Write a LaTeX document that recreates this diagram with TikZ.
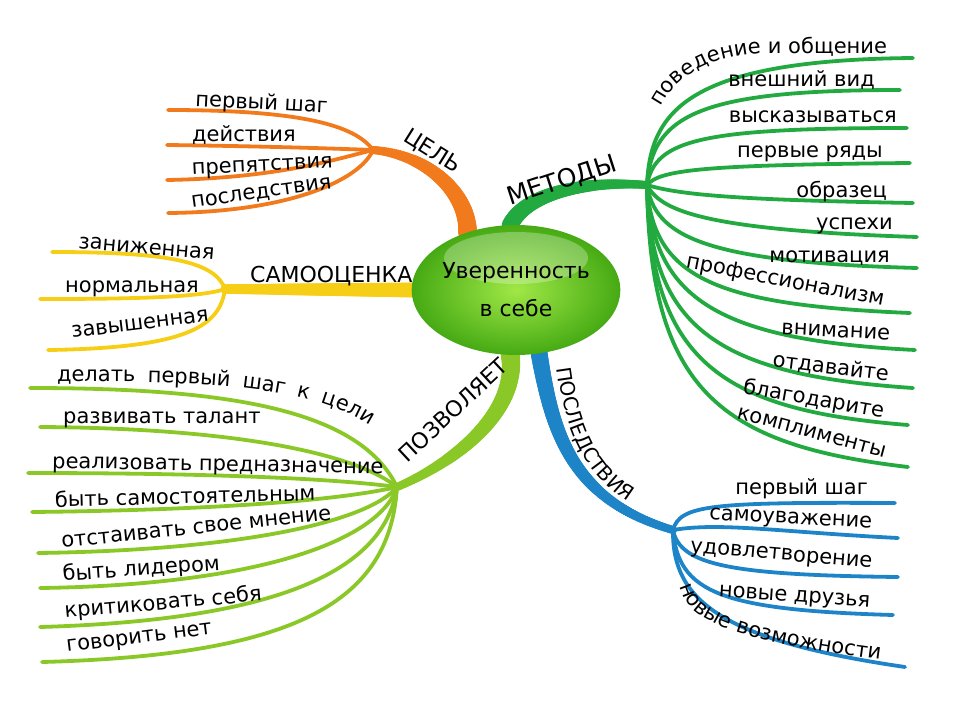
\documentclass[tikz,border=0pt]{standalone}
\usepackage{fontspec}
\setmainfont{DejaVu Sans}
\usetikzlibrary{shapes.geometric,backgrounds,decorations.text,decorations.markings}

\definecolor{goalc}{RGB}{241,122,28}
\definecolor{selfc}{RGB}{247,206,22}
\definecolor{allowc}{RGB}{138,200,40}
\definecolor{methc}{RGB}{34,170,64}
\definecolor{consc}{RGB}{30,132,200}
\definecolor{corein}{RGB}{160,232,70}
\definecolor{coreout}{RGB}{70,170,20}

\newcommand{\leaffont}{\fontsize{21}{25}\selectfont}
\newcommand{\topicfont}{\fontsize{22}{26}\selectfont}

\tikzset{
  leaf/.style={inner sep=0pt,font=\leaffont},
  topic/.style={inner sep=0pt,font=\topicfont},
  taper/.style 2 args={postaction={decorate,decoration={markings,
    mark=between positions 0 and 1 step 2pt with {%
      \pgfmathsetmacro{\tapr}{#1+(#2-#1)*\pgfkeysvalueof{/pgf/decoration/mark info/distance from start}/\pgfdecoratedpathlength}%
      \fill (0,0) circle (\tapr pt);}}}},
  branch/.style={line width=8pt,line cap=round},
  twig/.style={line width=3.8pt,line cap=round},
  core/.style={ellipse,minimum width=190pt,minimum height=130pt,inner sep=0pt,
    shade,shading=radial,inner color=corein,outer color=coreout,
    path picture={\fill[white,opacity=.28] ([yshift=32pt]path picture bounding box.center) ellipse (72pt and 26pt);},
    font=\fontsize{22}{38}\selectfont,align=center}
}

\begin{document}
\begin{tikzpicture}[x=1pt,y=-1pt]
\useasboundingbox (0,0) rectangle (960,720);

\coordinate (goal) at (373,150);
\coordinate (esteem) at (225,289);
\coordinate (method) at (647,185);
\coordinate (allow) at (397,487);
\coordinate (conseq) at (673,530);

\node[core] (core) at (516,290) {Уверенность\\в себе};

\begin{pgfonlayer}{background}
\draw[branch,taper={9.5}{4},goalc] (core.130) .. controls (468,195) and (430,155) .. (goal);
\draw[branch,taper={7.5}{5},selfc] (core.180) -- (esteem);
\draw[branch,taper={8.5}{4},methc] (core.95) .. controls (525,195) and (580,180) .. (method);
\draw[branch,taper={9.5}{4},allowc] (core.265) .. controls (518,410) and (460,460) .. (allow);
\draw[branch,taper={8.5}{4},consc] (core.290) .. controls (552,430) and (570,500) .. (conseq);
\end{pgfonlayer}

\coordinate (g1) at (168,110);
\coordinate (g2) at (167,145);
\coordinate (g3) at (167,180);
\coordinate (g4) at (168,213);
\draw[twig,goalc] (goal) .. controls (355,125) and (300,110) .. (g1);
\draw[twig,goalc] (goal) .. controls (320,148) and (250,146) .. (g2);
\draw[twig,goalc] (goal) .. controls (340,158) and (280,178) .. (g3);
\draw[twig,goalc] (goal) .. controls (360,180) and (290,212) .. (g4);
\node[leaf,anchor=base west,rotate=-3] (g1t) at (195,106) {первый шаг};
\node[leaf,anchor=base west] (g2t) at (192,141) {действия};
\node[leaf,anchor=base west,rotate=3] (g3t) at (192,175) {препятствия};
\node[leaf,anchor=base west,rotate=8] (g4t) at (192,208) {последствия};
\node[topic,rotate=-32] (goalt) at (432,152) {ЦЕЛЬ};

\coordinate (s1) at (52,252);
\coordinate (s2) at (40,299);
\coordinate (s3) at (48,350);
\draw[twig,selfc] (esteem) .. controls (215,262) and (170,252) .. (s1);
\draw[twig,selfc] (esteem) .. controls (200,298) and (120,299) .. (s2);
\draw[twig,selfc] (esteem) .. controls (220,325) and (190,348) .. (s3);
\node[leaf,anchor=base west,rotate=-5] (s1t) at (78,248) {заниженная};
\node[leaf,anchor=base west] (s2t) at (65,292) {нормальная};
\node[leaf,anchor=base west,rotate=7] (s3t) at (72,338) {завышенная};
\node[topic,anchor=base west] (esteemt) at (250,282) {САМООЦЕНКА};

\coordinate (a1) at (30,388);
\coordinate (a2) at (40,427);
\coordinate (a3) at (28,473);
\coordinate (a4) at (32,512);
\coordinate (a5) at (38,553);
\coordinate (a6) at (40,588);
\coordinate (a7) at (40,627);
\coordinate (a8) at (42,662);
\draw[twig,allowc] (allow) .. controls (360,410) and (230,388) .. (a1);
\draw[twig,allowc] (allow) .. controls (350,450) and (220,428) .. (a2);
\draw[twig,allowc] (allow) .. controls (330,478) and (200,473) .. (a3);
\draw[twig,allowc] (allow) .. controls (340,500) and (220,510) .. (a4);
\draw[twig,allowc] (allow) .. controls (370,520) and (250,550) .. (a5);
\draw[twig,allowc] (allow) .. controls (380,540) and (260,585) .. (a6);
\draw[twig,allowc] (allow) .. controls (385,570) and (280,620) .. (a7);
\draw[twig,allowc] (allow) .. controls (390,600) and (300,655) .. (a8);
\path[decorate,decoration={text along path,text align={fit to path stretching spaces},
  text={|\leaffont|делать первый шаг к цели}}] (57,382) .. controls (215,380) and (312,388) .. (370,425);
\node[leaf,anchor=base west] (a2t) at (63,423) {развивать талант};
\node[leaf,anchor=base west,rotate=-1] (a3t) at (52,468) {реализовать предназначение};
\node[leaf,anchor=base west,rotate=1.5] (a4t) at (55,507) {быть самостоятельным};
\node[leaf,anchor=base west,rotate=6] (a5t) at (62,548) {отстаивать свое мнение};
\node[leaf,anchor=base west,rotate=4] (a6t) at (63,581) {быть лидером};
\node[leaf,anchor=base west,rotate=5] (a7t) at (65,618) {критиковать себя};
\node[leaf,anchor=base west,rotate=7] (a8t) at (67,652) {говорить нет};
\node[topic,rotate=43] (allowt) at (453,410) {ПОЗВОЛЯЕТ};

\coordinate (m1) at (913,58);
\coordinate (m2) at (900,90);
\coordinate (m3) at (907,128);
\coordinate (m4) at (910,163);
\coordinate (m5) at (913,203);
\coordinate (m6) at (917,237);
\coordinate (m7) at (917,268);
\coordinate (m8) at (910,313);
\coordinate (m9) at (915,350);
\coordinate (m10) at (913,388);
\coordinate (m11) at (908,425);
\coordinate (m12) at (908,467);
\draw[twig,methc] (method) .. controls (650,110) and (690,60) .. (m1);
\draw[twig,methc] (method) .. controls (652,115) and (700,90) .. (m2);
\draw[twig,methc] (method) .. controls (655,140) and (700,128) .. (m3);
\draw[twig,methc] (method) .. controls (660,170) and (700,165) .. (m4);
\draw[twig,methc] (method) .. controls (680,195) and (740,200) .. (m5);
\draw[twig,methc] (method) .. controls (660,210) and (700,230) .. (m6);
\draw[twig,methc] (method) .. controls (655,235) and (700,262) .. (m7);
\draw[twig,methc] (method) .. controls (652,280) and (720,305) .. (m8);
\draw[twig,methc] (method) .. controls (652,300) and (720,340) .. (m9);
\draw[twig,methc] (method) .. controls (650,330) and (720,375) .. (m10);
\draw[twig,methc] (method) .. controls (650,360) and (720,410) .. (m11);
\draw[twig,methc] (method) .. controls (650,390) and (720,445) .. (m12);
\path[decorate,decoration={text along path,text align=right,
  text={|\leaffont|поведение и общение}}] (652,130) .. controls (666,75) and (710,55) .. (770,53) -- (887,53);
\node[leaf,anchor=base east] (m2t) at (875,86) {внешний вид};
\node[leaf,anchor=base east] (m3t) at (897,122) {высказываться};
\node[leaf,anchor=base east] (m4t) at (883,157) {первые ряды};
\node[leaf,anchor=base east] (m5t) at (887,197) {образец};
\node[leaf,anchor=base east] (m6t) at (893,229) {успехи};
\node[leaf,anchor=base east] (m7t) at (890,262) {мотивация};
\node[leaf,anchor=base east,rotate=-11] (m8t) at (883,306) {профессионализм};
\node[leaf,anchor=base east,rotate=-3] (m9t) at (890,340) {внимание};
\node[leaf,anchor=base east,rotate=-7] (m10t) at (888,381) {отдавайте};
\node[leaf,anchor=base east,rotate=-10] (m11t) at (883,418) {благодарите};
\node[leaf,anchor=base east,rotate=-15] (m12t) at (885,458) {комплименты};
\node[topic,font=\fontsize{25}{29}\selectfont,rotate=18] (methodt) at (562,181) {МЕТОДЫ};

\coordinate (c1) at (895,503);
\coordinate (c2) at (898,538);
\coordinate (c3) at (898,577);
\coordinate (c4) at (893,615);
\coordinate (c5) at (905,667);
\draw[twig,consc] (conseq) .. controls (680,505) and (710,502) .. (c1);
\draw[twig,consc] (conseq) .. controls (720,522) and (780,532) .. (c2);
\draw[twig,consc] (conseq) .. controls (680,565) and (730,575) .. (c3);
\draw[twig,consc] (conseq) .. controls (678,592) and (720,610) .. (c4);
\draw[twig,consc] (conseq) .. controls (672,600) and (720,640) .. (c5);
\node[leaf,anchor=base east] (c1t) at (868,494) {первый шаг};
\node[leaf,anchor=base east,rotate=-3] (c2t) at (872,528) {самоуважение};
\node[leaf,anchor=base east,rotate=-5] (c3t) at (872,568) {удовлетворение};
\node[leaf,anchor=base east,rotate=-4] (c4t) at (870,607) {новые друзья};
\path[decorate,decoration={text along path,
  text={|\leaffont|новые возможности}}] (680,586) .. controls (689,622) and (730,640) .. (882,660);
\path[decorate,decoration={text along path,
  text={|\fontsize{20}{24}\selectfont|ПОСЛЕДСТВИЯ}}] (557,368) .. controls (566,440) and (592,488) .. (648,512);

\end{tikzpicture}
\end{document}
